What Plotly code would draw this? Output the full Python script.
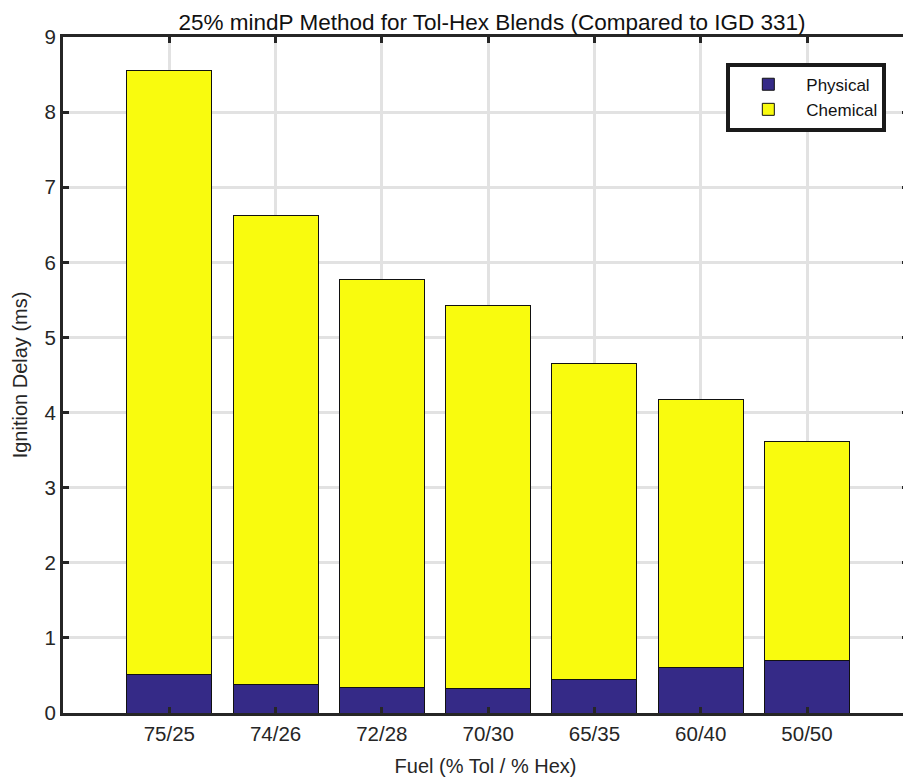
import plotly.graph_objects as go

categories = ["75/25", "74/26", "72/28", "70/30", "65/35", "60/40", "50/50"]
physical = [0.51, 0.38, 0.34, 0.32, 0.45, 0.60, 0.705]
chemical = [8.05, 6.24, 5.43, 5.10, 4.20, 3.57, 2.905]
y_ticks = [0, 1, 2, 3, 4, 5, 6, 7, 8, 9]

xpos = list(range(1, len(categories) + 1))
font_family = "Liberation Sans, Arial, Helvetica, sans-serif"
txt = "#262626"

fig = go.Figure()
fig.add_trace(go.Bar(x=xpos, y=physical, name="Physical", width=0.8,
                     marker=dict(color="#352A87", line=dict(color="#111111", width=1))))
fig.add_trace(go.Bar(x=xpos, y=chemical, name="Chemical", width=0.8,
                     marker=dict(color="#F9FB0E", line=dict(color="#111111", width=1))))

fig.update_layout(
    width=903, height=775,
    barmode="stack",
    plot_bgcolor="white", paper_bgcolor="white",
    margin=dict(l=55, r=0, t=29, b=70),
    font=dict(family=font_family, size=20, color=txt),
    title=dict(text="25% mindP Method for Tol-Hex Blends (Compared to IGD 331)",
               x=0.536, xanchor="center", y=0.982, yanchor="middle",
               font=dict(size=22.5, color="#111111")),
    legend=dict(x=0.785, y=0.962, xanchor="left", yanchor="top",
                bordercolor="#1a1a1a", borderwidth=4, bgcolor="white",
                traceorder="normal", font=dict(size=17, color="#111111"),
                itemwidth=66, tracegroupgap=0),
    xaxis=dict(
        range=[0, 7.95], tickmode="array", tickvals=xpos, ticktext=categories,
        showline=True, linecolor="#262626", linewidth=3, mirror="ticks",
        ticks="inside", ticklen=6, tickwidth=3, tickcolor="#262626",
        showgrid=True, gridcolor="#e2e2e2", gridwidth=3, zeroline=False,
        title=dict(text="Fuel (% Tol / % Hex)", standoff=16, font=dict(size=20)),
        tickfont=dict(size=20.5),
    ),
    yaxis=dict(
        range=[0, 9], tickmode="array", tickvals=y_ticks,
        showline=True, linecolor="#262626", linewidth=3, mirror="ticks",
        ticks="inside", ticklen=6, tickwidth=3, tickcolor="#262626",
        showgrid=True, gridcolor="#e2e2e2", gridwidth=3, zeroline=False,
        title=dict(text="Ignition Delay (ms)", standoff=12, font=dict(size=20)),
        tickfont=dict(size=20.5),
    ),
)

fig.write_html("out.html")
